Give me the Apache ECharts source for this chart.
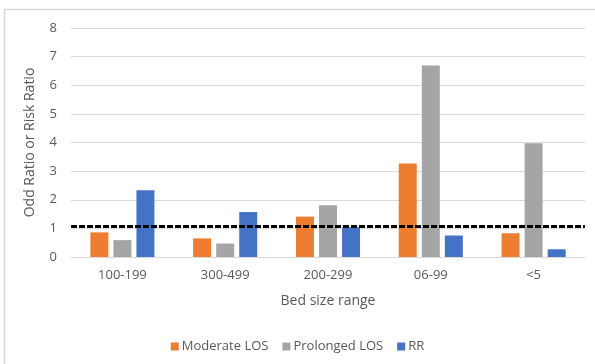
<!DOCTYPE html>
<html><head><meta charset="utf-8">
<script src="https://cdn.jsdelivr.net/npm/echarts@6/dist/echarts.min.js"></script>
<style>html,body{margin:0;padding:0;background:#fff}#c{width:595px;height:364px}</style>
</head><body><div id="c"></div>
<script>
const categories = ['100-199', '300-499', '200-299', '06-99', '<5'];
const moderateLOS = [0.86, 0.65, 1.41, 3.27, 0.83];
const prolongedLOS = [0.59, 0.47, 1.81, 6.69, 3.97];
const rr = [2.33, 1.57, 1.04, 0.75, 0.27];
const refLine = 1.07;
const yTicks = [0, 8, 1];

const txt = '#595959';
const font = 'Open Sans';
const chart = echarts.init(document.getElementById('c'));
chart.setOption({
  animation: false,
  textStyle: { fontFamily: font },
  grid: { left: 71, right: 10, top: 28, bottom: 107 },
  legend: {
    bottom: 6, left: 'center', itemWidth: 8, itemHeight: 8, itemGap: 14,
    icon: 'rect',
    textStyle: { color: txt, fontSize: 13, fontFamily: font, padding: [0, 0, 0, -2] },
    data: ['Moderate LOS', 'Prolonged LOS', 'RR']
  },
  xAxis: {
    type: 'category', data: categories,
    name: 'Bed size range', nameLocation: 'middle', nameGap: 37,
    nameTextStyle: { color: txt, fontSize: 14, fontFamily: font },
    axisLine: { lineStyle: { color: '#d9d9d9', width: 1 } },
    axisTick: { show: false },
    axisLabel: { color: txt, fontSize: 13, margin: 12, fontFamily: font }
  },
  yAxis: {
    type: 'value', min: yTicks[0], max: yTicks[1], interval: yTicks[2],
    name: 'Odd Ratio or Risk Ratio', nameLocation: 'middle', nameGap: 34,
    nameTextStyle: { color: txt, fontSize: 14, fontFamily: font },
    axisLine: { show: false }, axisTick: { show: false },
    axisLabel: { color: txt, fontSize: 13, margin: 14, fontFamily: font },
    splitLine: { lineStyle: { color: '#d9d9d9', width: 1 } }
  },
  series: [
    { name: 'Moderate LOS', type: 'bar', data: moderateLOS, barWidth: 18, barGap: '28%',
      itemStyle: { color: '#ED7D31' } },
    { name: 'Prolonged LOS', type: 'bar', data: prolongedLOS, barWidth: 18, barGap: '28%',
      itemStyle: { color: '#A5A5A5' } },
    { name: 'RR', type: 'bar', data: rr, barWidth: 18, barGap: '28%',
      itemStyle: { color: '#4472C4' },
      markLine: {
        silent: true, symbol: 'none', label: { show: false },
        lineStyle: { color: '#000', width: 3, type: [6, 2] },
        data: [{ yAxis: refLine }]
      }
    }
  ],
  graphic: [
    { type: 'line', shape: { x1: 4, y1: 9.5, x2: 595, y2: 9.5 }, style: { stroke: '#d9d9d9', lineWidth: 1.5 } },
    { type: 'line', shape: { x1: 4.5, y1: 9, x2: 4.5, y2: 364 }, style: { stroke: '#d9d9d9', lineWidth: 1.5 } }
  ]
});
</script></body></html>
